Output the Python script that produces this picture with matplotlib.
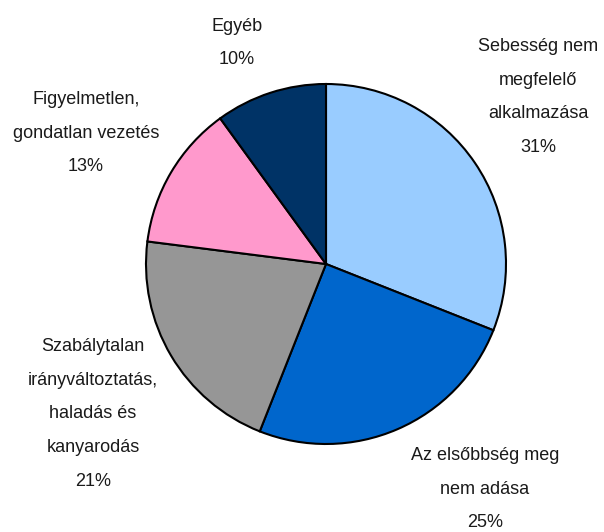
import matplotlib
matplotlib.use("Agg")
import matplotlib.pyplot as plt
from matplotlib import font_manager

categories = [
    "Sebesség nem\nmegfelelő\nalkalmazása",
    "Az elsőbbség meg\nnem adása",
    "Szabálytalan\nirányváltoztatás,\nhaladás és\nkanyarodás",
    "Figyelmetlen,\ngondatlan vezetés",
    "Egyéb",
]
values = [31, 25, 21, 13, 10]
colors = ["#99CCFF", "#0066CC", "#969696", "#FF99CC", "#003366"]

names = {f.name for f in font_manager.fontManager.ttflist}
family = ["Liberation Sans Narrow", "Liberation Sans", "DejaVu Sans"]
family = [f for f in family if f in names] or ["DejaVu Sans"]

W, H = 604, 532
fig = plt.figure(figsize=(W / 100, H / 100), dpi=100)
ax = fig.add_axes([0, 0, 1, 1])
ax.pie(values, colors=colors, startangle=90, counterclock=False,
       center=(326, H - 264), radius=180,
       wedgeprops=dict(edgecolor="black", linewidth=1.5))
ax.set_xlim(0, W)
ax.set_ylim(0, H)
ax.set_aspect("equal")
ax.axis("off")

label_pos = [(538, 97), (485, 489), (93, 414), (86, 133), (237, 43)]
for (x, y), cat, v in zip(label_pos, categories, values):
    ax.text(x, H - y, f"{cat}\n{v}%", ha="center", va="center",
            fontsize=13, family=family, linespacing=2.3, color="#1a1a1a")

fig.savefig("out.png", dpi=100)
